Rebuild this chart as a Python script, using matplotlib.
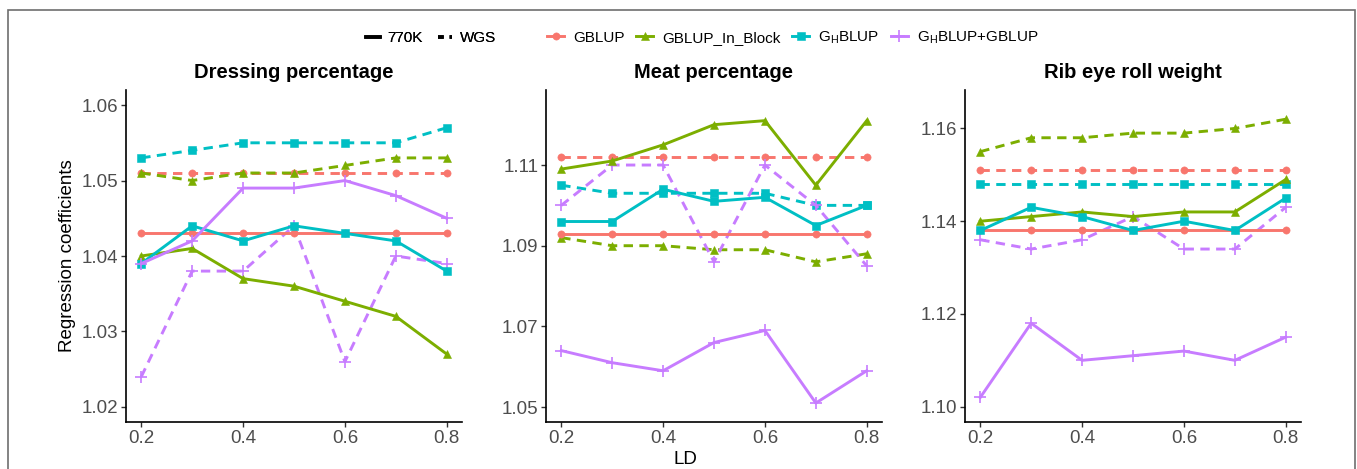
import matplotlib
matplotlib.use("Agg")
import matplotlib.pyplot as plt
from matplotlib.lines import Line2D
from matplotlib.patches import Rectangle

plt.rcParams['font.family'] = ['Liberation Sans', 'DejaVu Sans']
plt.rcParams['mathtext.fontset'] = 'custom'
plt.rcParams['mathtext.rm'] = 'Liberation Sans'
plt.rcParams['mathtext.it'] = 'Liberation Sans:italic'
plt.rcParams['mathtext.bf'] = 'Liberation Sans:bold'

ld = [0.2, 0.3, 0.4, 0.5, 0.6, 0.7, 0.8]
x_ticks = [0.2, 0.4, 0.6, 0.8]

methods = ["GBLUP", "GBLUP_In_Block", "GHBLUP", "GHBLUP+GBLUP"]
method_labels = ["GBLUP", "GBLUP_In_Block", r"G$_\mathrm{H}$BLUP", r"G$_\mathrm{H}$BLUP+GBLUP"]
panels = ["Dressing percentage", "Meat percentage", "Rib eye roll weight"]
panel_yticks = [[1.02, 1.03, 1.04, 1.05, 1.06],
                [1.05, 1.07, 1.09, 1.11],
                [1.10, 1.12, 1.14, 1.16]]
panel_ylim = [(1.018, 1.062), (1.0463, 1.1286), (1.0967, 1.1683)]

# Dressing percentage
dp_gblup_770k = [1.043, 1.043, 1.043, 1.043, 1.043, 1.043, 1.043]
dp_gblup_wgs = [1.051, 1.051, 1.051, 1.051, 1.051, 1.051, 1.051]
dp_block_770k = [1.040, 1.041, 1.037, 1.036, 1.034, 1.032, 1.027]
dp_block_wgs = [1.051, 1.050, 1.051, 1.051, 1.052, 1.053, 1.053]
dp_gh_770k = [1.039, 1.044, 1.042, 1.044, 1.043, 1.042, 1.038]
dp_gh_wgs = [1.053, 1.054, 1.055, 1.055, 1.055, 1.055, 1.057]
dp_ghg_770k = [1.039, 1.042, 1.049, 1.049, 1.050, 1.048, 1.045]
dp_ghg_wgs = [1.024, 1.038, 1.038, 1.044, 1.026, 1.040, 1.039]

# Meat percentage
mp_gblup_770k = [1.093, 1.093, 1.093, 1.093, 1.093, 1.093, 1.093]
mp_gblup_wgs = [1.112, 1.112, 1.112, 1.112, 1.112, 1.112, 1.112]
mp_block_770k = [1.109, 1.111, 1.115, 1.120, 1.121, 1.105, 1.121]
mp_block_wgs = [1.092, 1.090, 1.090, 1.089, 1.089, 1.086, 1.088]
mp_gh_770k = [1.096, 1.096, 1.104, 1.101, 1.102, 1.095, 1.100]
mp_gh_wgs = [1.105, 1.103, 1.103, 1.103, 1.103, 1.100, 1.100]
mp_ghg_770k = [1.064, 1.061, 1.059, 1.066, 1.069, 1.051, 1.059]
mp_ghg_wgs = [1.100, 1.110, 1.110, 1.086, 1.110, 1.100, 1.085]

# Rib eye roll weight
re_gblup_770k = [1.138, 1.138, 1.138, 1.138, 1.138, 1.138, 1.138]
re_gblup_wgs = [1.151, 1.151, 1.151, 1.151, 1.151, 1.151, 1.151]
re_block_770k = [1.140, 1.141, 1.142, 1.141, 1.142, 1.142, 1.149]
re_block_wgs = [1.155, 1.158, 1.158, 1.159, 1.159, 1.160, 1.162]
re_gh_770k = [1.138, 1.143, 1.141, 1.138, 1.140, 1.138, 1.145]
re_gh_wgs = [1.148, 1.148, 1.148, 1.148, 1.148, 1.148, 1.148]
re_ghg_770k = [1.102, 1.118, 1.110, 1.111, 1.112, 1.110, 1.115]
re_ghg_wgs = [1.136, 1.134, 1.136, 1.141, 1.134, 1.134, 1.143]

data = [
    {"770K": [dp_gblup_770k, dp_block_770k, dp_gh_770k, dp_ghg_770k],
     "WGS": [dp_gblup_wgs, dp_block_wgs, dp_gh_wgs, dp_ghg_wgs]},
    {"770K": [mp_gblup_770k, mp_block_770k, mp_gh_770k, mp_ghg_770k],
     "WGS": [mp_gblup_wgs, mp_block_wgs, mp_gh_wgs, mp_ghg_wgs]},
    {"770K": [re_gblup_770k, re_block_770k, re_gh_770k, re_ghg_770k],
     "WGS": [re_gblup_wgs, re_block_wgs, re_gh_wgs, re_ghg_wgs]},
]

colors = ["#F8766D", "#7CAE00", "#00BFC4", "#C77CFF"]
markers = ["o", "^", "s", "+"]
msizes = [5.2, 6.2, 5.6, 9]
dash = (0, (3.2, 2.2))

W, H = 1357, 469
fig = plt.figure(figsize=(W / 100, H / 100), dpi=100)

# outer frame
fig.patches.append(Rectangle((8 / W, -0.05), (1355 - 8) / W, 1.05 - 10 / H,
                             transform=fig.transFigure, fill=False,
                             edgecolor="#6e6e6e", linewidth=1.2))

lefts = [126, 546, 965]
right_w = 336
ax_top, ax_bot = 90, 422
tick_col = "#4D4D4D"

for i, title in enumerate(panels):
    ax = fig.add_axes([lefts[i] / W, 1 - ax_bot / H, right_w / W, (ax_bot - ax_top) / H])
    for lt, ls in (("WGS", dash), ("770K", "-")):
        for m in range(4):
            ax.plot(ld, data[i][lt][m], color=colors[m], linestyle=ls, linewidth=2.1,
                    marker=markers[m], markersize=msizes[m], markeredgewidth=1.2 if m == 3 else 0.4,
                    markeredgecolor=colors[m])
    ax.set_xlim(0.17, 0.83)
    ax.set_ylim(*panel_ylim[i])
    ax.set_xticks(x_ticks)
    ax.set_xticklabels([f"{t:.1f}" for t in x_ticks])
    ax.set_yticks(panel_yticks[i])
    ax.set_yticklabels([f"{t:.2f}" for t in panel_yticks[i]])
    for s in ("top", "right"):
        ax.spines[s].set_visible(False)
    for s in ("left", "bottom"):
        ax.spines[s].set_linewidth(1.2)
        ax.spines[s].set_color("black")
    ax.tick_params(axis="both", direction="out", length=3.5, width=1.0, color="#333333",
                   labelsize=13.5, labelcolor=tick_col, pad=2)
    ax.set_title(title, fontsize=14.5, fontweight="bold", pad=9)

fig.text(68 / W, 1 - 256 / H, "Regression coefficients", rotation=90, ha="center", va="center",
         fontsize=13.5, color="black")
fig.text(685 / W, 1 - 459 / H, "LD", ha="center", va="center", fontsize=13.5, color="black")

# legends
lt_handles = [Line2D([], [], color="black", linewidth=2.6, linestyle="-"),
              Line2D([], [], color="black", linewidth=2.6, linestyle=(0, (1.6, 1.6)))]
leg1 = fig.legend(lt_handles, ["770K", "WGS"], loc="center", bbox_to_anchor=(431 / W, 1 - 38 / H),
                  ncol=2, frameon=False, fontsize=11, handlelength=0.9, handletextpad=0.5,
                  columnspacing=1.0, borderpad=0)
col_handles = [Line2D([], [], color=colors[m], linewidth=2.1, marker=markers[m],
                      markersize=msizes[m], markeredgewidth=1.2 if m == 3 else 0.4)
               for m in range(4)]
leg2 = fig.legend(col_handles, method_labels, loc="center", bbox_to_anchor=(793 / W, 1 - 38 / H),
                  ncol=4, frameon=False, fontsize=11, handlelength=1.1, handletextpad=0.6,
                  columnspacing=0.75, borderpad=0)
fig.add_artist(leg1)

fig.savefig("out.png", dpi=100)
